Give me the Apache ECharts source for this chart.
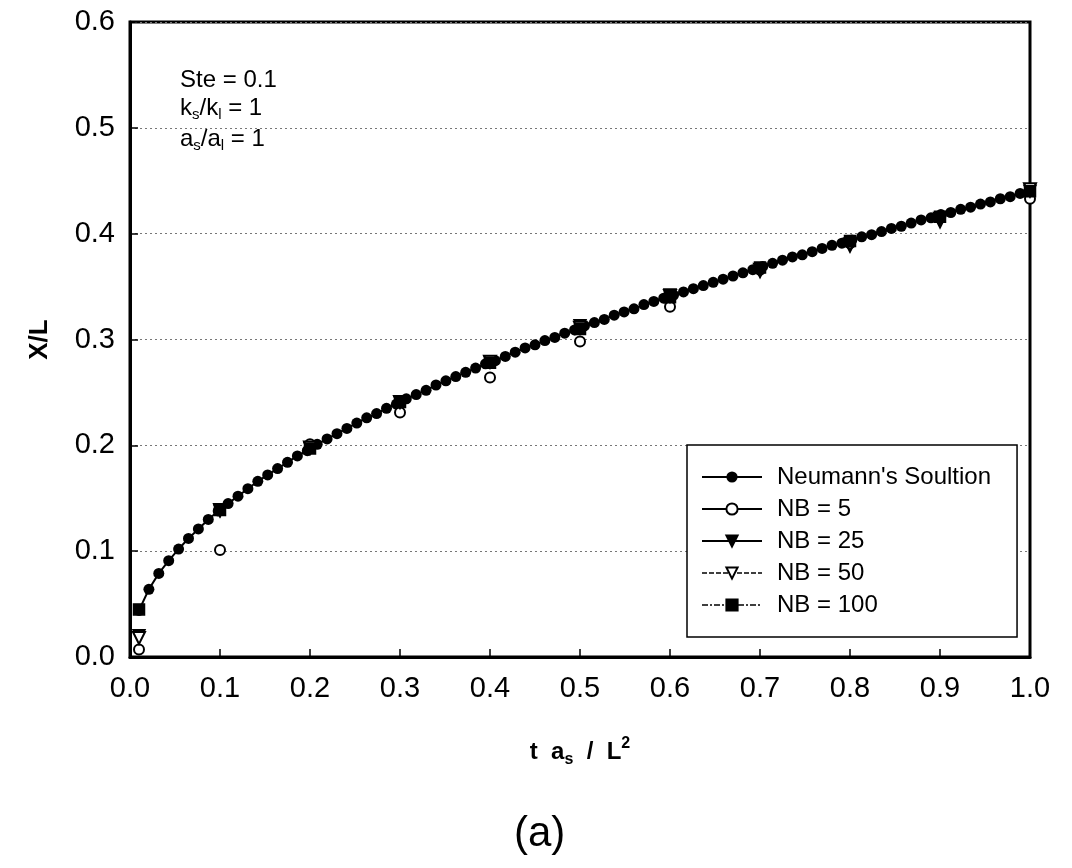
<!DOCTYPE html>
<html><head><meta charset="utf-8">
<script src="https://cdn.jsdelivr.net/npm/echarts@6/dist/echarts.min.js"></script>
<style>html,body{margin:0;padding:0;background:#fff}#c{width:1072px;height:868px}</style>
</head><body><div id="c"></div>
<script>
// Neumann's solution (closed circles, line)
const neumannT = [0.010,0.021,0.032,0.043,0.054,0.065,0.076,0.087,0.098,0.109,0.120,0.131,0.142,0.153,0.164,0.175,0.186,0.197,0.208,0.219,0.230,0.241,0.252,0.263,0.274,0.285,0.296,0.307,0.318,0.329,0.340,0.351,0.362,0.373,0.384,0.395,0.406,0.417,0.428,0.439,0.450,0.461,0.472,0.483,0.494,0.505,0.516,0.527,0.538,0.549,0.560,0.571,0.582,0.593,0.604,0.615,0.626,0.637,0.648,0.659,0.670,0.681,0.692,0.703,0.714,0.725,0.736,0.747,0.758,0.769,0.780,0.791,0.802,0.813,0.824,0.835,0.846,0.857,0.868,0.879,0.890,0.901,0.912,0.923,0.934,0.945,0.956,0.967,0.978,0.989,1.000];
const neumannX = [0.044,0.064,0.079,0.091,0.102,0.112,0.121,0.130,0.138,0.145,0.152,0.159,0.166,0.172,0.178,0.184,0.190,0.195,0.201,0.206,0.211,0.216,0.221,0.226,0.230,0.235,0.239,0.244,0.248,0.252,0.257,0.261,0.265,0.269,0.273,0.277,0.280,0.284,0.288,0.292,0.295,0.299,0.302,0.306,0.309,0.313,0.316,0.319,0.323,0.326,0.329,0.333,0.336,0.339,0.342,0.345,0.348,0.351,0.354,0.357,0.360,0.363,0.366,0.369,0.372,0.375,0.378,0.380,0.383,0.386,0.389,0.391,0.394,0.397,0.399,0.402,0.405,0.407,0.410,0.413,0.415,0.418,0.420,0.423,0.425,0.428,0.430,0.433,0.435,0.438,0.440];
// Numerical results
const nbT = [0.01,0.1,0.2,0.3,0.4,0.5,0.6,0.7,0.8,0.9,1.0];
const nb5 = [0.007,0.101,0.201,0.231,0.264,0.298,0.331,0.366,0.391,0.415,0.433];
const nb25 = [0.020,0.138,0.197,0.241,0.279,0.313,0.342,0.364,0.388,0.411,0.440];
const nb50 = [0.018,0.139,0.198,0.241,0.279,0.311,0.341,0.366,0.390,0.414,0.442];
const nb100 = [0.045,0.139,0.197,0.241,0.278,0.310,0.340,0.368,0.393,0.416,0.440];
const seriesNames = ["Neumann's Soultion","NB = 5","NB = 25","NB = 50","NB = 100"];

const zip = (a,b)=>a.map((v,i)=>[v,b[i]]);
const FONT = 'Liberation Sans, Arial, sans-serif';
const chart = echarts.init(document.getElementById('c'), null, {renderer:'canvas'});
const pointSeries = (name, data, symbol, size, rot) => ({
  name, type:'line', data, symbol, symbolSize:size, symbolRotate:rot,
  lineStyle:{width:0, opacity:0}, itemStyle:{color:'#000', borderColor:'#000', borderWidth:1.5},
  showSymbol:true, z:3, animation:false
});
const sub = {fontSize:15,fontFamily:FONT,color:'#000',padding:[14,0,0,0]};
chart.setOption({
  backgroundColor:'#fff',
  animation:false,
  grid:{left:130,right:42,top:22,bottom:211,show:true,borderColor:'#000',borderWidth:3,backgroundColor:'transparent'},
  xAxis:{type:'value',min:0,max:1,interval:0.1,
    axisLine:{lineStyle:{color:'#000',width:3}},
    axisTick:{inside:true,length:8,lineStyle:{color:'#000',width:1.5}},
    axisLabel:{color:'#000',fontSize:29,fontFamily:FONT,margin:17,formatter:v=>v.toFixed(1)},
    splitLine:{show:false},
    name:'{b|t  a}{sub|s}{b|  /  L}{sup|2}',nameLocation:'middle',nameGap:79,
    nameTextStyle:{rich:{
      b:{fontSize:24,fontWeight:'bold',fontFamily:FONT,color:'#000'},
      sub:{fontSize:16,fontWeight:'bold',fontFamily:FONT,color:'#000',padding:[16,0,0,0]},
      sup:{fontSize:16,fontWeight:'bold',fontFamily:FONT,color:'#000',padding:[0,0,16,0]}}}
  },
  yAxis:{type:'value',min:0,max:0.6,interval:0.1,
    axisLine:{lineStyle:{color:'#000',width:3}},
    axisTick:{inside:true,length:8,lineStyle:{color:'#000',width:1.5}},
    axisLabel:{color:'#000',fontSize:29,fontFamily:FONT,margin:15,formatter:v=>v.toFixed(1)},
    splitLine:{show:true,lineStyle:{color:'#777',width:1,type:[2,3]}},
    name:'X/L',nameLocation:'middle',nameGap:77,nameRotate:90,
    nameTextStyle:{fontSize:26,fontWeight:'bold',fontFamily:FONT,color:'#000'}
  },
  legend:{
    orient:'vertical',left:687,top:445,
    padding:[20,26,20,14],itemGap:8,itemWidth:60,itemHeight:14,
    backgroundColor:'#fff',borderColor:'#000',borderWidth:1.5,
    textStyle:{fontSize:24,lineHeight:24,fontFamily:FONT,color:'#000',padding:[0,0,0,10]},
    data:[
      {name:seriesNames[0],lineStyle:{width:2,color:'#000',opacity:1,type:'solid'}},
      {name:seriesNames[1],lineStyle:{width:2,color:'#000',opacity:1,type:'solid'}},
      {name:seriesNames[2],lineStyle:{width:2,color:'#000',opacity:1,type:'solid'}},
      {name:seriesNames[3],lineStyle:{width:1.5,color:'#000',opacity:1,type:[5,2]}},
      {name:seriesNames[4],lineStyle:{width:1.5,color:'#000',opacity:1,type:[6,2,2,2]}}
    ]
  },
  graphic:[
    {type:'text',left:180,top:68,style:{text:'Ste = 0.1',font:'24px '+FONT,fill:'#000'}},
    {type:'text',left:180,top:96,style:{text:'{n|k}{s|s}{n|/k}{s|l}{n| = 1}',
      rich:{n:{fontSize:24,fontFamily:FONT,color:'#000'},s:sub}}},
    {type:'text',left:180,top:127,style:{text:'{n|a}{s|s}{n|/a}{s|l}{n| = 1}',
      rich:{n:{fontSize:24,fontFamily:FONT,color:'#000'},s:sub}}},
    {type:'text',left:514,top:813,style:{text:'(a)',font:'42px '+FONT,fill:'#000'}}
  ],
  series:[
    {name:seriesNames[0],type:'line',data:zip(neumannT,neumannX),symbol:'circle',symbolSize:11,
      lineStyle:{color:'#000',width:2},itemStyle:{color:'#000'},z:2,animation:false},
    pointSeries(seriesNames[1],zip(nbT,nb5),'emptyCircle',10,0),
    pointSeries(seriesNames[2],zip(nbT,nb25),'triangle',12,180),
    pointSeries(seriesNames[3],zip(nbT,nb50),'emptyTriangle',12,180),
    pointSeries(seriesNames[4],zip(nbT,nb100),'rect',11,0)
  ]
});
</script></body></html>
